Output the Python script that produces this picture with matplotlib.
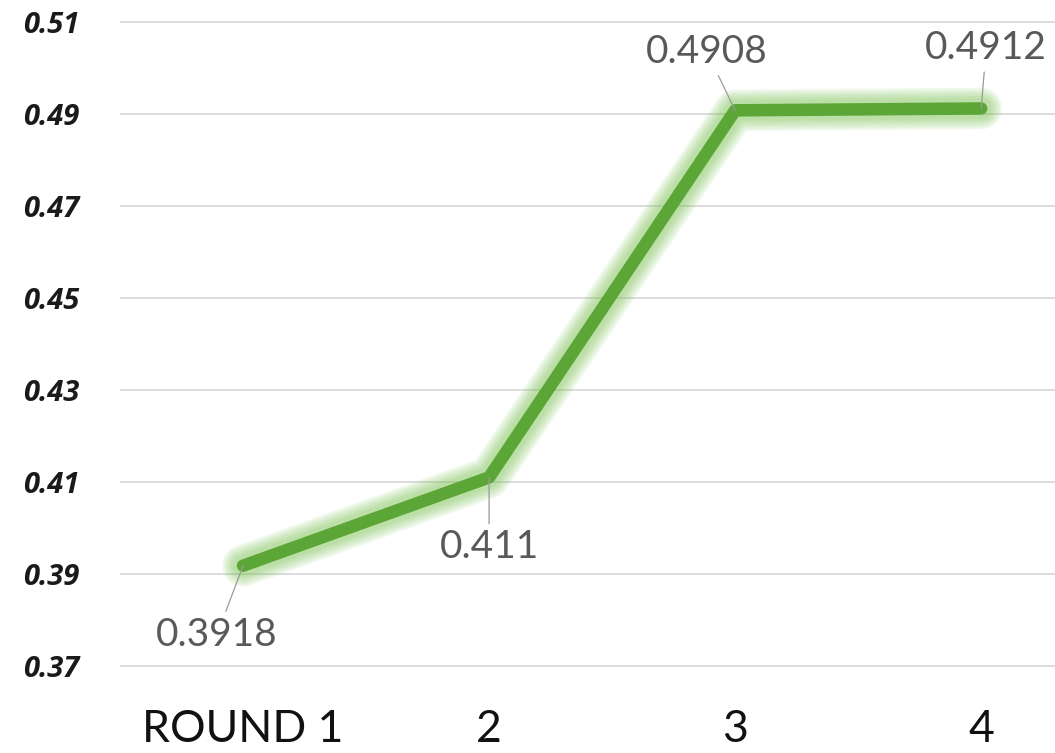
import matplotlib
matplotlib.use("Agg")
import matplotlib.pyplot as plt

rounds = ["ROUND 1", "2", "3", "4"]
scores = [0.3918, 0.411, 0.4908, 0.4912]
y_ticks = [0.37, 0.39, 0.41, 0.43, 0.45, 0.47, 0.49, 0.51]
score_labels = ["0.3918", "0.411", "0.4908", "0.4912"]

# label offsets (pixels) from each point
label_offsets = [(-26, -69), (0, -70), (-28, 58), (5, 60)]

line_green = "#5ba636"


def main():
    fig = plt.figure(figsize=(10.55, 7.53), dpi=100)
    ax = fig.add_axes([120 / 1055, (753 - 675.2) / 753, 935 / 1055, 662.4 / 753])

    x = list(range(len(rounds)))

    # glow around the line
    for w in [30, 27, 24, 21, 18, 15]:
        ax.plot(x, scores, color="#7cc455", lw=w, alpha=0.11,
                solid_capstyle="round", solid_joinstyle="round", zorder=3)
    ax.plot(x, scores, color=line_green, lw=9,
            solid_capstyle="round", solid_joinstyle="round", zorder=4)

    for xi, yi, txt, off in zip(x, scores, score_labels, label_offsets):
        ax.annotate(txt, xy=(xi, yi), xytext=off, textcoords="offset pixels",
                    ha="center", va="center", fontsize=28, color="#595959",
                    family="Lato",
                    arrowprops=dict(arrowstyle="-", color="#9a9a9a", lw=0.9,
                                    shrinkA=2, shrinkB=0), zorder=5)

    ax.set_xlim(-0.5, 3.3)
    ax.set_ylim(0.368, 0.512)
    ax.set_yticks(y_ticks)
    ax.set_yticklabels([f"{t:.2f}" for t in y_ticks])
    ax.set_xticks(x)
    ax.set_xticklabels(rounds)

    ax.grid(axis="y", color="#d9d9d9", lw=1.3)
    ax.set_axisbelow(True)
    for s in ax.spines.values():
        s.set_visible(False)

    ax.tick_params(axis="both", length=0)
    ax.tick_params(axis="y", pad=29)
    ax.tick_params(axis="x", pad=24)
    for lbl in ax.get_yticklabels():
        lbl.set_fontsize(21)
        lbl.set_fontweight("bold")
        lbl.set_fontstyle("italic")
        lbl.set_family("Open Sans")
        lbl.set_color("#1a1a1a")
    for lbl in ax.get_xticklabels():
        lbl.set_fontsize(32)
        lbl.set_family("Lato")
        lbl.set_color("#111111")

    fig.savefig("out.png", dpi=100)
    plt.close()


if __name__ == '__main__':
    main()
